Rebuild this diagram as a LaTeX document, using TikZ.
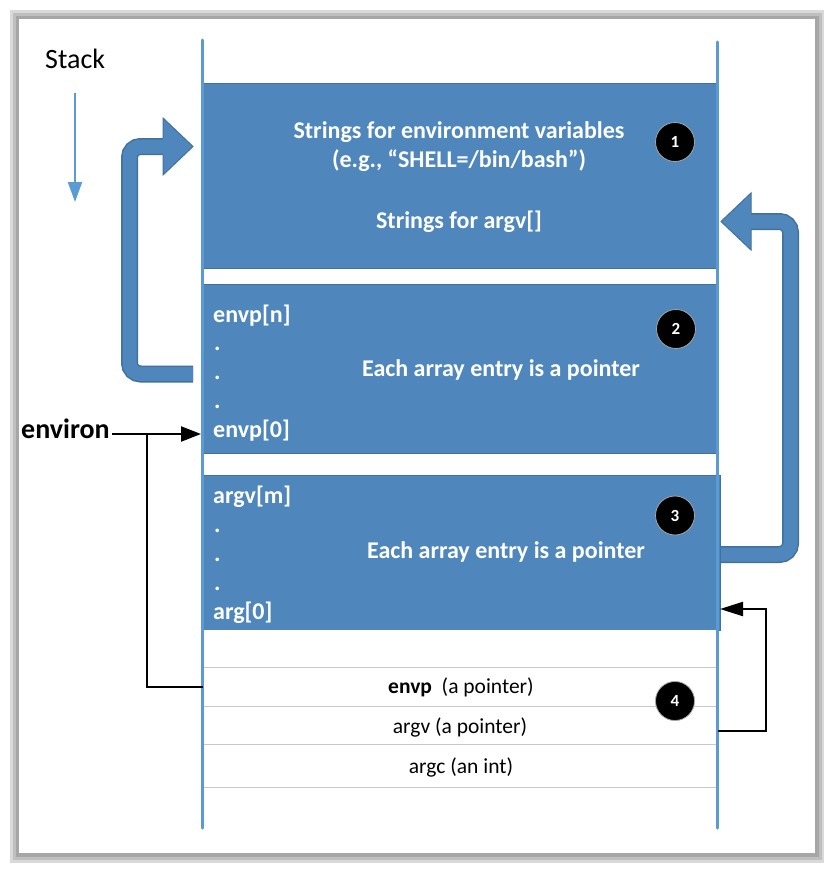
\documentclass[tikz,border=0pt]{standalone}
\usepackage{fontspec}
\setmainfont{Carlito}
\usetikzlibrary{arrows.meta}
\definecolor{boxblue}{HTML}{4F87BD}
\definecolor{boxedge}{HTML}{41719C}
\definecolor{lineblue}{HTML}{5B9BD5}
\definecolor{sepgray}{HTML}{C8C8C8}
\begin{document}
\begin{tikzpicture}[x=1pt,y=-1pt,
  bluebox/.style={rectangle, fill=boxblue, draw=boxedge, line width=0.8pt, inner sep=0, anchor=north west, minimum width=513pt},
  rowbox/.style={rectangle, fill=white, inner sep=0, anchor=north west, minimum width=513pt},
  wtxt/.style={text=white, font=\fontsize{24}{28}\selectfont\bfseries, inner sep=0},
  rtxt/.style={text=black, font=\fontsize{21.5}{25}\selectfont, inner sep=0, anchor=base},
  numcirc/.style={circle, fill=black, draw=gray!70, line width=0.8pt, minimum size=39pt, inner sep=0, text=white, font=\fontsize{17}{17}\selectfont\bfseries},
  stackline/.style={draw=lineblue, line width=3pt, line cap=round},
  blk/.style={draw=black, line width=2.2pt},
  sepline/.style={draw=sepgray, line width=1.6pt},
  blockout/.style={draw=boxedge, line width=17pt, rounded corners=11pt},
  blockin/.style={draw=boxblue, line width=14pt, rounded corners=11pt},
]
\useasboundingbox (0,0) rectangle (834,872);
% frame with shadow
\fill[gray!30] (10,10) rectangle (824,863);
\fill[gray!50] (13,13) rectangle (822,860);
\fill[gray!70] (16,16) rectangle (819,857);
\fill[white] (19,19) rectangle (815,853);

% blue boxes
\node[bluebox, minimum height=185pt] (b1) at (203,83) {};
\node[bluebox, minimum height=169pt] (b2) at (203,284) {};
\node[bluebox, minimum height=155pt, minimum width=517pt] (b3) at (203,475) {};

% rows
\node[rowbox, minimum height=37pt] (r0) at (203,630) {};
\node[rowbox, minimum height=39pt] (renvp) at (203,667) {};
\node[rowbox, minimum height=38pt] (rargv) at (203,706) {};
\node[rowbox, minimum height=43pt] (rargc) at (203,744) {};
\draw[sepline] (r0.south west) -- (r0.south east);
\draw[sepline] (renvp.south west) -- (renvp.south east);
\draw[sepline] (rargv.south west) -- (rargv.south east);
\draw[sepline] (rargc.south west) -- (rargc.south east);

% stack lines
\coordinate (lt) at (202.5,40);
\coordinate (lb) at (202.5,828);
\coordinate (rt) at (717,42);
\coordinate (rb) at (717,828);
\draw[stackline] (lt) -- (lb);
\draw[stackline] (rt) -- (rb);

% box 1 texts
\node[wtxt, anchor=base] (t1a) at (459,139) {Strings for environment variables};
\node[wtxt, anchor=base] (t1b) at (459,167) {(e.g., “SHELL=/bin/bash”)};
\node[wtxt, anchor=base] (t1c) at (459,228) {Strings for argv[]};

% box 2 texts
\node[wtxt, anchor=base west] (e1) at (213,322) {envp[n]};
\node[wtxt, anchor=base west] (e2) at (214,350.5) {.};
\node[wtxt, anchor=base west] (e3) at (214,379) {.};
\node[wtxt, anchor=base west] (e4) at (214,408) {.};
\node[wtxt, anchor=base west] (e5) at (213,437) {envp[0]};
\node[wtxt, anchor=base] (e6) at (501,376) {Each array entry is a pointer};

% box 3 texts
\node[wtxt, anchor=base west] (a1) at (213,503) {argv[m]};
\node[wtxt, anchor=base west] (a2) at (214,532) {.};
\node[wtxt, anchor=base west] (a3) at (214,561) {.};
\node[wtxt, anchor=base west] (a4) at (214,590) {.};
\node[wtxt, anchor=base west] (a5) at (213,619) {arg[0]};
\node[wtxt, anchor=base] (a6) at (506,558) {Each array entry is a pointer};

% row texts
\node[rtxt] (tenvp) at (461,693) {\textbf{envp}\ \ (a pointer)};
\node[rtxt] (targv) at (460,733) {argv (a pointer)};
\node[rtxt] (targc) at (461,773) {argc (an int)};

% numbered circles
\node[numcirc] (n1) at (675,142) {1};
\node[numcirc] (n2) at (676,329) {2};
\node[numcirc] (n3) at (675,515.5) {3};
\node[numcirc] (n4) at (675,701) {4};

% Stack label and arrow
\node[anchor=base west, inner sep=0, font=\fontsize{28}{32}\selectfont] (stack) at (45,69) {Stack};
\coordinate (sa) at (75,93);
\coordinate (sb) at (75,202);
\draw[draw=lineblue, line width=2pt, -{Triangle[length=20pt,width=14pt]}] (sa) -- (sb);

% environ pointer
\node[anchor=base west, inner sep=0, font=\fontsize{28}{32}\selectfont\bfseries] (environ) at (21,438) {environ};
\coordinate (envs) at (112,434);
\coordinate (envtip) at (201,434);
\coordinate (envj) at (147,434);
\draw[blk, -{Triangle[length=20pt,width=15pt]}] (envs) -- (envtip);
\draw[blk] (envj) |- (renvp.west);

% argv pointer
\coordinate (avs) at (718,731);
\coordinate (avc) at (766,731);
\coordinate (avtip) at (720,609);
\draw[blk, -{Triangle[length=23pt,width=14pt]}] (avs) -- (avc) |- (avtip);

% left block arrow (envp -> strings)
\coordinate (L0) at (193,374);
\coordinate (L1) at (129.5,374);
\coordinate (L2) at (129.5,146.5);
\coordinate (L3) at (166,146.5);
\draw[blockout] (L0) -- (L1) -- (L2) -- (L3);
\draw[blockin] (L0) -- (L1) -- (L2) -- (L3);
\fill[boxblue] (163,118) -- (193,146.5) -- (163,175) -- cycle;
\draw[boxedge, line width=1pt, line join=miter] (163,138) -- (163,118) -- (193,146.5) -- (163,175) -- (163,155);

% right block arrow (argv -> strings)
\coordinate (R0) at (721,554.5);
\coordinate (R1) at (790.5,554.5);
\coordinate (R2) at (790.5,221.5);
\coordinate (R3) at (748,221.5);
\draw[blockout] (R0) -- (R1) -- (R2) -- (R3);
\draw[blockin] (R0) -- (R1) -- (R2) -- (R3);
\fill[boxblue] (751,193) -- (721,221.5) -- (751,250) -- cycle;
\draw[boxedge, line width=1pt, line join=miter] (751,213) -- (751,193) -- (721,221.5) -- (751,250) -- (751,230);
\end{tikzpicture}
\end{document}
